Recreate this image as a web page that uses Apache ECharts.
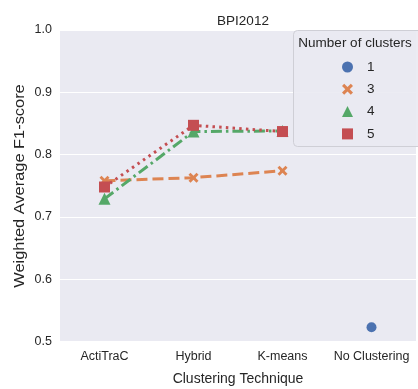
<!DOCTYPE html>
<html>
<head>
<meta charset="utf-8">
<script src="https://cdn.jsdelivr.net/npm/echarts@6/dist/echarts.min.js"></script>
<style>
  html, body { margin: 0; padding: 0; background: #ffffff; }
  #chart { width: 418px; height: 389px; }
</style>
</head>
<body>
<div id="chart"></div>
<script>
// Weighted average F1-score per clustering technique, BPI2012 log
const categories = ['ActiTraC', 'Hybrid', 'K-means', 'No Clustering'];
const clusters1 = [null, null, null, 0.523];
const clusters3 = [0.758, 0.763, 0.774, null];
const clusters4 = [0.729, 0.837, 0.838, null];
const clusters5 = [0.748, 0.847, 0.837, null];
const yTicks = [0.5, 0.6, 0.7, 0.8, 0.9, 1.0];

const textColor = '#262626';
const fontFamily = '"Liberation Sans", Arial, sans-serif';
const crossPath = 'path://M2,0 L5,3 L8,0 L10,2 L7,5 L10,8 L8,10 L5,7 L2,10 L0,8 L3,5 L0,2 Z';

const chart = echarts.init(document.getElementById('chart'), null, { renderer: 'canvas' });

chart.setOption({
  animation: false,
  backgroundColor: '#ffffff',
  textStyle: { fontFamily: fontFamily, color: textColor },
  title: {
    text: 'BPI2012',
    left: 238,
    textAlign: 'center',
    top: 9,
    textStyle: { fontFamily: fontFamily, fontSize: 13.5, fontWeight: 'normal', color: textColor }
  },
  grid: {
    left: 60, right: 2, top: 30, bottom: 47.5,
    containLabel: false,
    outerBoundsMode: 'none',
    show: true, backgroundColor: '#eaeaf2', borderWidth: 0
  },
  xAxis: {
    type: 'category',
    data: categories,
    boundaryGap: true,
    axisLine: { show: false },
    axisTick: { show: false },
    splitLine: { show: false },
    axisLabel: { fontSize: 12.5, color: textColor, margin: 9, fontFamily: fontFamily, interval: 0 },
    name: 'Clustering Technique',
    nameLocation: 'middle',
    nameGap: 31,
    nameTextStyle: { fontSize: 14, color: textColor, fontFamily: fontFamily }
  },
  yAxis: {
    type: 'value',
    min: yTicks[0],
    max: yTicks[yTicks.length - 1],
    interval: 0.1,
    axisLine: { show: false },
    axisTick: { show: false },
    splitLine: { show: true, lineStyle: { color: '#ffffff', width: 1.2 } },
    axisLabel: {
      fontSize: 12.5, color: textColor, margin: 8, fontFamily: fontFamily,
      formatter: function (v) { return v.toFixed(1); }
    }
  },
  graphic: [
    {
      // y-axis title, drawn slightly elongated along its baseline
      type: 'text',
      x: 20, y: 186,
      rotation: Math.PI / 2,
      scaleX: 1.13,
      style: {
        text: 'Weighted Average F1-score',
        align: 'center', verticalAlign: 'middle',
        font: '14.5px "Liberation Sans", Arial, sans-serif',
        fill: textColor
      }
    },
    {
      type: 'rect',
      z: 3,
      shape: { x: 293.5, y: 30.5, width: 130, height: 116, r: 4 },
      style: { fill: 'rgba(234,234,242,0.9)', stroke: '#cfcfd6', lineWidth: 1 }
    },
    {
      type: 'text',
      z: 4,
      style: {
        text: 'Number of clusters',
        x: 355, y: 43,
        align: 'center', verticalAlign: 'middle',
        font: '13.5px "Liberation Sans", Arial, sans-serif',
        fill: textColor
      }
    }
  ],
  legend: {
    z: 6,
    orient: 'vertical',
    left: 337,
    top: 55,
    itemWidth: 11,
    itemHeight: 11,
    itemGap: 8.3,
    selectedMode: false,
    textStyle: { fontSize: 13.5, color: textColor, fontFamily: fontFamily, padding: [0, 0, 0, 9] },
    data: [
      { name: '1', icon: 'circle' },
      { name: '3', icon: crossPath },
      { name: '4', icon: 'triangle' },
      { name: '5', icon: 'rect' }
    ]
  },
  series: [
    {
      name: '1', type: 'line', data: clusters1,
      symbol: 'circle', symbolSize: 10, showSymbol: true,
      itemStyle: { color: '#4c72b0' },
      lineStyle: { width: 0 }
    },
    {
      name: '3', type: 'line', data: clusters3,
      symbol: crossPath, symbolSize: 10,
      itemStyle: { color: '#dd8452' },
      lineStyle: { color: '#dd8452', width: 3, type: [11, 5] }
    },
    {
      name: '4', type: 'line', data: clusters4,
      symbol: 'triangle', symbolSize: 12,
      itemStyle: { color: '#55a868' },
      lineStyle: { color: '#55a868', width: 3, type: [11, 4, 2.5, 4] }
    },
    {
      name: '5', type: 'line', data: clusters5,
      symbol: 'rect', symbolSize: 11,
      itemStyle: { color: '#c44e52' },
      lineStyle: { color: '#c44e52', width: 3, type: [2.5, 4.2], cap: 'butt' }
    }
  ]
});
</script>
</body>
</html>
